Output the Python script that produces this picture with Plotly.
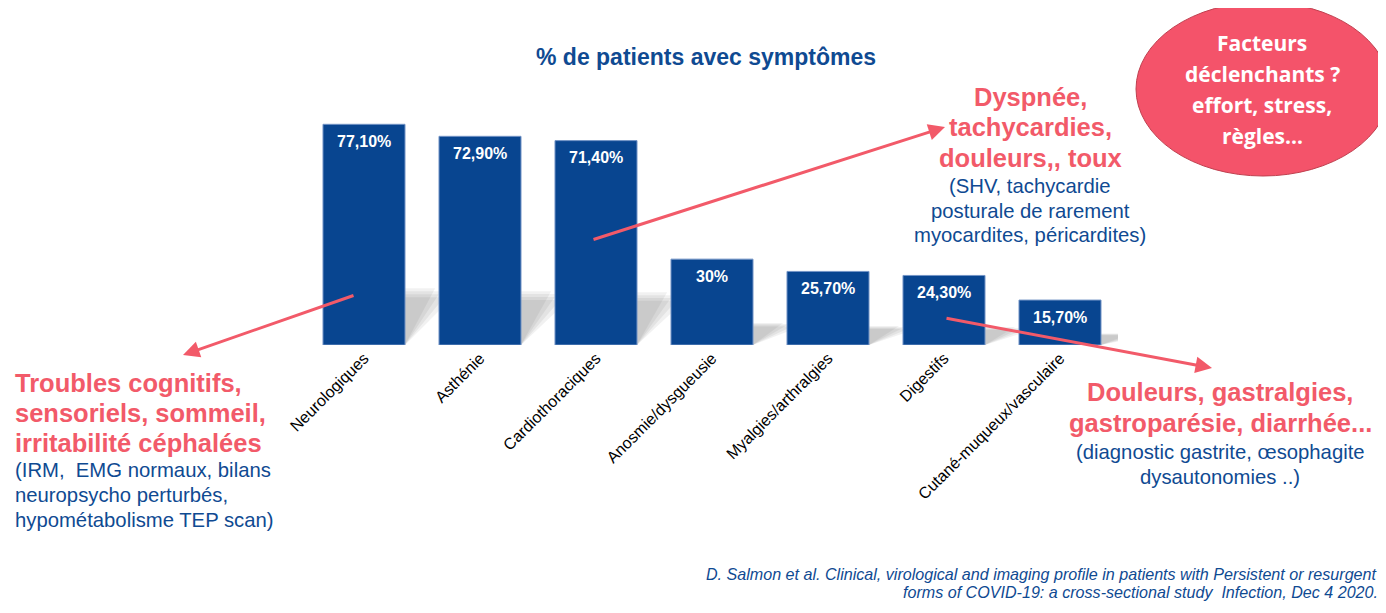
import plotly.graph_objects as go

categories = ["Neurologiques", "Asthénie", "Cardiothoraciques", "Anosmie/dysgueusie",
              "Myalgies/arthralgies", "Digestifs", "Cutané-muqueux/vasculaire"]
values = [77.1, 72.9, 71.4, 30.0, 25.7, 24.3, 15.7]
value_labels = ["77,10%", "72,90%", "71,40%", "30%", "25,70%", "24,30%", "15,70%"]

title_text = "% de patients avec symptômes"
left_red = ["Troubles cognitifs,", "sensoriels, sommeil,", "irritabilité céphalées"]
left_blue = ["(IRM,  EMG normaux, bilans", "neuropsycho perturbés,", "hypométabolisme TEP scan)"]
top_red = ["Dyspnée,", "tachycardies,", "douleurs,, toux"]
top_blue = ["(SHV, tachycardie", "posturale de rarement", "myocardites, péricardites)"]
right_red = ["Douleurs, gastralgies,", "gastroparésie, diarrhée..."]
right_blue = ["(diagnostic gastrite, œsophagite", "dysautonomies ..)"]
bubble_lines = ["Facteurs", "déclenchants ?", "effort, stress,", "règles…"]
citation = ["D. Salmon et al. Clinical, virological and imaging profile in patients with Persistent or resurgent",
            "forms of COVID-19: a cross-sectional study  Infection, Dec 4 2020."]

OFF = 8  # page body margin
W, H = 1386 - OFF, 613 - OFF
L, T = 306 - OFF, 116 - OFF
PW, PH = 812, 229
R = W - L - PW
B = H - T - PH
YMAX = 80

RED = "#f25a69"
BLUE = "#0f4a92"
BAR = "#084590"
FONT = "Liberation Sans, Arial"


def px(x):
    return (x - OFF - L) / PW


def py(y):
    return (T + PH - (y - OFF)) / PH


fig = go.Figure()
fig.add_trace(go.Bar(
    x=categories, y=values,
    marker=dict(color=BAR, line=dict(color="#7394c6", width=1)),
    hoverinfo="skip",
))

bargap = 0.293
half = (1 - bargap) / 2
shapes = []
for i, v in enumerate(values):
    s = v * 0.23
    for k in range(4):
        d = 0.26 + 0.05 * k
        extra = 1.12 - 0.06 * k
        x0, x1 = i - half, i + half
        path = (f"M {x0},0 L {x1},0 L {x1 + d},{s * extra} "
                f"L {x0 + d},{s * extra} Z")
        shapes.append(dict(type="path", path=path, xref="x", yref="y",
                           fillcolor="rgba(0,0,0,0.055)",
                           line=dict(width=0), layer="below"))

# bubble ellipse
shapes.append(dict(type="circle", xref="paper", yref="paper",
                   x0=px(1136), x1=px(1390), y0=py(176), y1=py(2),
                   fillcolor="#f4536a", line=dict(color="#c0404f", width=1),
                   layer="above"))

annotations = []
for c, v, t in zip(categories, values, value_labels):
    annotations.append(dict(x=c, y=v, xref="x", yref="y", text=f"<b>{t}</b>",
                            showarrow=False, yanchor="middle", yshift=-17,
                            font=dict(family=FONT, size=16, color="white")))


def lines_at(lines, x, y0, dy, size, color, bold=False, italic=False,
             xanchor="center", family=FONT):
    for j, line in enumerate(lines):
        txt = line
        if bold:
            txt = f"<b>{txt}</b>"
        if italic:
            txt = f"<i>{txt}</i>"
        annotations.append(dict(x=px(x), y=py(y0 + j * dy), xref="paper", yref="paper",
                                text=txt, showarrow=False, xanchor=xanchor, yanchor="middle",
                                font=dict(family=family, size=size, color=color)))


lines_at([title_text], 706, 57, 0, 23, BLUE, bold=True)
lines_at(left_red, 13, 383, 30, 25.5, RED, bold=True, xanchor="left")
lines_at(left_blue, 13, 470, 25, 20.3, BLUE, xanchor="left")
lines_at(top_red, 1030, 97, 30.5, 25.5, RED, bold=True)
lines_at(top_blue, 1030, 186, 24.5, 20.3, BLUE)
lines_at(right_red, 1220, 392, 31, 25.5, RED, bold=True)
lines_at(right_blue, 1220, 452, 25, 20.3, BLUE)
lines_at(bubble_lines, 1262, 43, 31, 21, "white", bold=True, family="Open Sans, Lato")
lines_at(citation, 1380, 574, 18, 16.1, BLUE, italic=True, xanchor="right")

# arrows (tail -> head), in page pixels
arrows = [((355, 295), (183, 355)), ((592, 240), (945, 127)), ((945, 318), (1212, 368))]
for (tx, ty), (hx, hy) in arrows:
    annotations.append(dict(x=px(hx), y=py(hy), ax=tx - hx, ay=ty - hy,
                            xref="paper", yref="paper", axref="pixel", ayref="pixel",
                            text="", showarrow=True, arrowhead=2, arrowsize=1.1,
                            arrowwidth=3, arrowcolor=RED, standoff=0))

fig.update_layout(
    width=W, height=H,
    margin=dict(l=L, r=R, t=T, b=B),
    paper_bgcolor="white", plot_bgcolor="white",
    bargap=bargap, showlegend=False,
    shapes=shapes, annotations=annotations,
    xaxis=dict(tickangle=-45, tickfont=dict(family=FONT, size=16, color="black"),
               showgrid=False, showline=False, zeroline=False, ticks="",
               range=[-0.5, len(categories) - 0.5]),
    yaxis=dict(range=[0, YMAX], visible=False, showgrid=False),
)

fig.write_html("out.html")
